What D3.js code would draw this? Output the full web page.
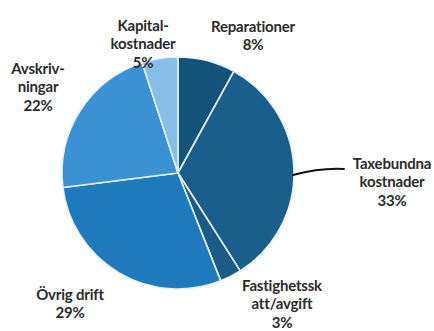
<!DOCTYPE html>
<html>
<head>
<meta charset="utf-8">
<script src="https://cdn.jsdelivr.net/npm/d3@7"></script>
<style>
  html, body { margin: 0; padding: 0; background: #ffffff; }
  svg { display: block; }
</style>
</head>
<body>
<svg id="chart" width="434" height="331"></svg>
<script>
// ---- data ----
const categories = ["Reparationer", "Taxebundna kostnader", "Fastighetsskatt/avgift", "Övrig drift", "Avskrivningar", "Kapitalkostnader"];
const values = [8, 33, 3, 29, 22, 5];
const labelLines = [
  ["Reparationer", "8%"],
  ["Taxebundna", "kostnader", "33%"],
  ["Fastighetssk", "att/avgift", "3%"],
  ["Övrig drift", "29%"],
  ["Avskriv-", "ningar", "22%"],
  ["Kapital-", "kostnader", "5%"]
];

// ---- styles / layout ----
const colors = ["#135279", "#1a5e8c", "#1b5c87", "#1f79bd", "#3a92d5", "#85bee6"];
const labelAnchor = [ // label block centre offset from pie centre (layout)
  [75, -136], [214, 10], [104, 132], [-108, 132], [-140, -85], [-35, -128]
];
const cx = 178, cy = 173, R = 116, lineH = 18.5;

const svg = d3.select("#chart");
const g = svg.append("g").attr("transform", `translate(${cx},${cy})`);

const pie = d3.pie().value(d => d).sort(null);
const arcs = pie(values);
const arc = d3.arc().innerRadius(0).outerRadius(R);

g.selectAll("path.slice")
  .data(arcs)
  .enter().append("path")
  .attr("class", "slice")
  .attr("d", arc)
  .attr("fill", (d, i) => colors[i])
  .attr("stroke", "#e6f1fa")
  .attr("stroke-width", 1.6)
  .attr("stroke-linejoin", "round");

// leader line for Taxebundna kostnader
const ang = 91 * Math.PI / 180;
const p0 = [Math.sin(ang) * (R - 1), -Math.cos(ang) * (R - 1)];
g.append("path")
  .attr("d", `M${p0[0]},${p0[1]} C${p0[0] + 15},${p0[1] - 4} ${p0[0] + 32},${p0[1] - 7} ${p0[0] + 51},${p0[1] - 6}`)
  .attr("fill", "none")
  .attr("stroke", "#111")
  .attr("stroke-width", 2)
  .attr("stroke-linecap", "round");

// labels
arcs.forEach((d, i) => {
  const lines = labelLines[i];
  const [ax, ay] = labelAnchor[i];
  const t = g.append("text")
    .attr("x", ax)
    .attr("y", ay - (lines.length - 1) * lineH / 2)
    .attr("text-anchor", "middle")
    .attr("dominant-baseline", "middle")
    .attr("font-family", "Lato, 'Open Sans', sans-serif")
    .attr("font-weight", 700)
    .attr("font-size", 15)
    .attr("letter-spacing", -0.2)
    .attr("fill", "#2b2b2b");
  lines.forEach((ln, j) => {
    t.append("tspan")
      .attr("x", ax)
      .attr("dy", j === 0 ? 0 : lineH)
      .text(ln);
  });
});
</script>
</body>
</html>
